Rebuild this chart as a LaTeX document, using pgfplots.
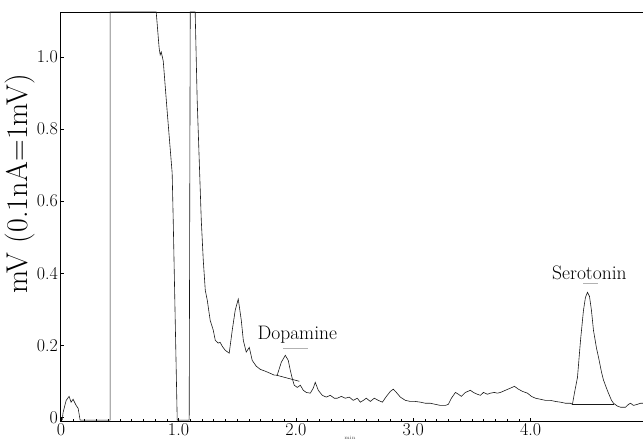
\documentclass[border=0pt]{standalone}
\usepackage{pgfplots}
\pgfplotsset{compat=1.18}

\begin{document}
\begin{tikzpicture}
    \begin{axis}[
            scale only axis,
            width=583.6pt, height=409pt,
            xmin=-0.005, xmax=4.97,
            ymin=-0.011, ymax=1.125,
            axis line style={black, line width=0.7pt},
            x axis line style={line width=1pt},
            xtick={0,1,2,3,4},
            xticklabels={0,1.0,2.0,3.0,4.0},
            minor x tick num=9,
            ytick={0,0.2,0.4,0.6,0.8,1.0},
            yticklabels={0,0.2,0.4,0.6,0.8,1.0},
            tick align=inside,
            xtick pos=bottom, ytick pos=left,
            major tick length=3pt, minor tick length=2pt,
            tick style={black, line width=0.5pt},
            ticklabel style={font=\fontsize{18}{21}\selectfont},
            xticklabel style={yshift=1pt},
            yticklabel style={xshift=1pt},
            ylabel={mV (0.1nA=1mV)},
            ylabel style={font=\fontsize{30}{33}\selectfont, at={(rel axis cs:-0.069,0.58)}, anchor=center},
            clip=false,
        ]
        % chromatogram trace
        \addplot[black!90, line width=0.6pt] coordinates {
            (0.009,-0.008) (0.017,0.014) (0.043,0.047) (0.068,0.058) (0.085,0.042)
            (0.102,0.050) (0.128,0.033) (0.145,0.025) (0.162,-0.008) (0.418,-0.008)
            (0.418,1.125) (0.810,1.125) (0.835,1.025) (0.844,1.006) (0.853,1.014)
            (0.870,0.989) (0.904,0.847) (0.946,0.678) (0.955,0.547) (0.989,-0.008)
            (1.091,-0.008) (1.100,1.125) (1.142,1.125) (1.159,0.881) (1.194,0.547)
            (1.211,0.436) (1.228,0.353) (1.245,0.325) (1.270,0.269) (1.296,0.242)
            (1.313,0.214) (1.338,0.206) (1.355,0.208) (1.373,0.197) (1.398,0.186)
            (1.432,0.178) (1.458,0.242) (1.483,0.297) (1.509,0.328) (1.535,0.269)
            (1.552,0.214) (1.577,0.181) (1.603,0.194) (1.628,0.158) (1.662,0.142)
            (1.697,0.133) (1.739,0.128) (1.782,0.122) (1.816,0.117) (1.841,0.117)
            (1.876,0.153) (1.910,0.172) (1.935,0.158) (1.952,0.131) (1.969,0.108)
            (1.986,0.089) (2.012,0.083) (2.038,0.089) (2.063,0.075) (2.089,0.069)
            (2.123,0.067) (2.148,0.081) (2.165,0.097) (2.191,0.075) (2.225,0.061)
            (2.259,0.056) (2.293,0.061) (2.327,0.053) (2.353,0.053) (2.387,0.058)
            (2.421,0.053) (2.455,0.056) (2.489,0.047) (2.523,0.053) (2.549,0.042)
            (2.575,0.047) (2.600,0.053) (2.634,0.044) (2.668,0.053) (2.702,0.047)
            (2.737,0.042) (2.771,0.058) (2.805,0.072) (2.830,0.078) (2.856,0.069)
            (2.890,0.056) (2.933,0.047) (2.975,0.044) (3.018,0.044) (3.061,0.042)
            (3.103,0.039) (3.146,0.039) (3.188,0.036) (3.231,0.033) (3.274,0.033)
            (3.299,0.036) (3.325,0.053) (3.359,0.069) (3.385,0.064) (3.410,0.058)
            (3.444,0.069) (3.487,0.075) (3.512,0.069) (3.546,0.064) (3.572,0.061)
            (3.598,0.069) (3.632,0.064) (3.657,0.067) (3.691,0.069) (3.717,0.067)
            (3.743,0.069) (3.785,0.075) (3.828,0.081) (3.862,0.086) (3.896,0.078)
            (3.930,0.072) (3.973,0.067) (4.007,0.058) (4.041,0.053) (4.084,0.050)
            (4.126,0.047) (4.169,0.047) (4.211,0.044) (4.254,0.042) (4.297,0.039)
            (4.339,0.039) (4.356,0.036) (4.373,0.067) (4.399,0.111) (4.425,0.214)
            (4.450,0.297) (4.467,0.333) (4.484,0.347) (4.501,0.336) (4.518,0.297)
            (4.535,0.242) (4.561,0.192) (4.578,0.167) (4.604,0.125) (4.621,0.103)
            (4.646,0.081) (4.663,0.067) (4.689,0.047) (4.706,0.039) (4.740,0.031)
            (4.766,0.028) (4.808,0.028) (4.834,0.036) (4.851,0.039) (4.876,0.033)
            (4.910,0.036) (4.936,0.039) (4.962,0.039)
        };
        % integration baselines
        \addplot[black!90, line width=0.6pt] coordinates {(1.833,0.117) (2.029,0.100)};
        \addplot[black!90, line width=0.6pt] coordinates {(4.356,0.036) (4.706,0.036)};
        % faint marks under the peak names
        \addplot[black!30, line width=0.5pt] coordinates {(1.893,0.192) (2.106,0.192)};
        \addplot[black!30, line width=0.5pt] coordinates {(4.450,0.372) (4.578,0.372)};

        \node[font=\fontsize{19.5}{22}\selectfont] at (axis cs:2.012,0.228) {Dopamine};
        \node[font=\fontsize{19.5}{22}\selectfont] at (axis cs:4.501,0.400) {Serotonin};
        \node[font=\fontsize{5}{6}\selectfont, anchor=north, black!70] at (axis cs:2.46,-0.011) [yshift=-11pt] {min};

        \coordinate (bbsw) at (rel axis cs:0,0);
        \coordinate (bbne) at (rel axis cs:1,1);
    \end{axis}
    \pgfresetboundingbox
    \path ([xshift=-60.5pt,yshift=-18pt]bbsw) rectangle ([xshift=-1.5pt,yshift=12pt]bbne);
\end{tikzpicture}
\end{document}
